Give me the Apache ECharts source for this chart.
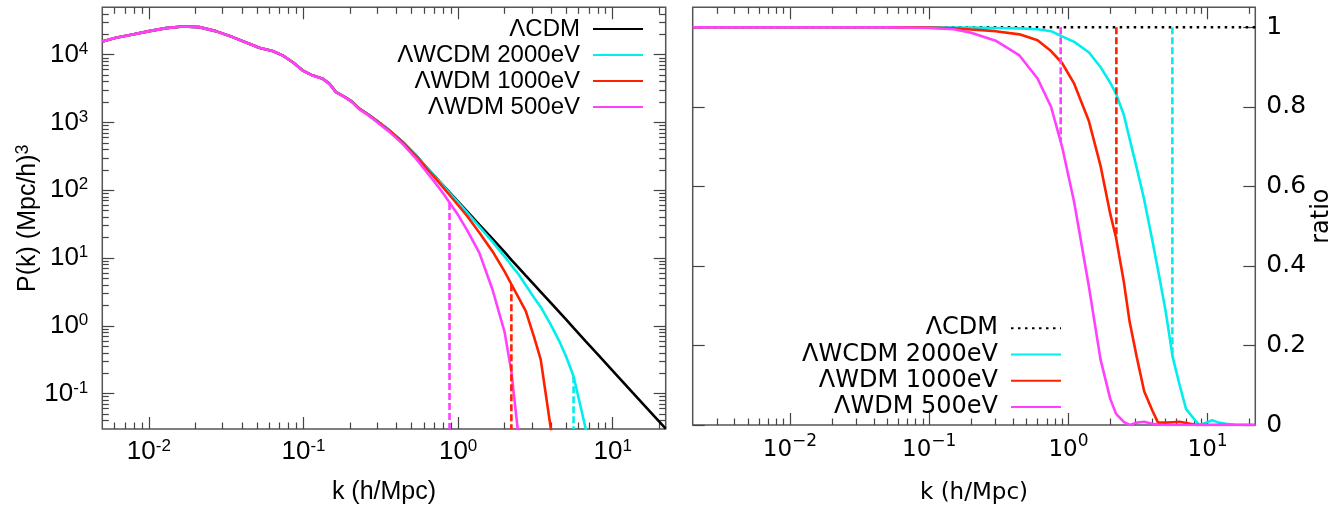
<!DOCTYPE html>
<html><head><meta charset="utf-8">
<script src="https://cdn.jsdelivr.net/npm/echarts@6/dist/echarts.min.js"></script>
<style>html,body{margin:0;padding:0;background:#fff}#c{width:1344px;height:510px}</style>
</head><body><div id="c"></div>
<script>
// ---------- data ----------
const seriesNames = ['ΛCDM', 'ΛWCDM 2000eV', 'ΛWDM 1000eV', 'ΛWDM 500eV'];
const seriesColors = ['#000000', '#00eeee', '#ff2000', '#ff40ff'];

// left panel: P(k)
const kPk = [0.005, 0.00612, 0.00785, 0.01006, 0.0129, 0.0165, 0.0212, 0.0271, 0.0348, 0.0446,
  0.0517, 0.0631, 0.0732, 0.0849, 0.0986, 0.114, 0.133, 0.147, 0.162, 0.188,
  0.207, 0.229, 0.253, 0.294, 0.358, 0.437, 0.533, 0.618, 0.70, 0.80,
  0.88, 1.0, 1.14, 1.37, 1.67, 2.0, 2.21, 2.45, 2.74, 3.1,
  3.42, 3.98, 4.5, 5.0, 5.58, 6.69, 8.0, 10, 13.4, 16, 22];
const pkLCDM = [15700, 17760, 19890, 22260, 24640, 26060, 25490, 22260, 18170, 14500,
  12660, 11310, 9765, 7790, 5876, 4961, 4432, 3742, 2821, 2329,
  2011, 1605, 1385, 1081, 770, 519, 330, 223, 164, 118,
  93, 68, 49, 31, 19.2, 12.2, 9.4, 7.3, 5.5, 4.05,
  3.17, 2.17, 1.6, 1.23, 0.93, 0.59, 0.38, 0.217, 0.104, 0.067, 0.0303];
const pkW2000 = [15700, 17760, 19890, 22260, 24640, 26060, 25490, 22260, 18170, 14500,
  12660, 11310, 9765, 7790, 5876, 4961, 4432, 3742, 2821, 2329,
  2011, 1605, 1385, 1081, 770, 517, 329, 222, 163, 117,
  91, 66, 47, 29.1, 17.3, 10.5, 7.8, 5.8, 3.96, 2.6,
  1.9, 1.03, 0.6, 0.35, 0.18, 0.03, 0.003, null, null, null, null];
const pkW1000 = [15700, 17760, 19890, 22260, 24640, 26060, 25490, 22260, 18170, 14500,
  12660, 11310, 9765, 7790, 5870, 4953, 4424, 3733, 2813, 2320,
  1999, 1595, 1376, 1072, 762, 510, 322, 215, 157, 110,
  85, 60, 42, 23.8, 12.5, 6.3, 4.1, 2.65, 1.65, 0.68,
  0.32, 0.03, 0.004, null, null, null, null, null, null, null, null];
const pkW500 = [15700, 17760, 19890, 22260, 24640, 26060, 25490, 22260, 18170, 14500,
  12660, 11310, 9765, 7790, 5864, 4941, 4400, 3708, 2793, 2301,
  1983, 1576, 1352, 1045, 732, 483, 295, 192, 135, 90,
  66, 43, 26, 12, 3.4, 0.8, 0.21, 0.025, 0.001, null,
  null, null, null, null, null, null, null, null, null, null, null];

// right panel: ratio to ΛCDM
const kRatio = [0.002, 0.01, 0.05, 0.1, 0.15, 0.2, 0.3, 0.445, 0.6, 0.75,
  0.9, 1.1, 1.4, 1.7, 2.0, 2.2, 2.5, 2.75, 3.1, 3.5,
  4.0, 4.4, 5.0, 5.6, 6.3, 7.0, 8.0, 8.7, 9.6, 10.8,
  12, 13.5, 16, 22];
const ratioLCDM = [1, 1, 1, 1, 1, 1, 1, 1, 1, 1,
  1, 1, 1, 1, 1, 1, 1, 1, 1, 1,
  1, 1, 1, 1, 1, 1, 1, 1, 1, 1,
  1, 1, 1, 1];
const ratioW2000 = [1, 1, 1, 1, 0.999, 0.999, 0.998, 0.997, 0.995, 0.99,
  0.977, 0.963, 0.937, 0.90, 0.86, 0.832, 0.78, 0.72, 0.645, 0.567,
  0.465, 0.39, 0.285, 0.172, 0.10, 0.04, 0.015, 0, 0.005, 0.012,
  0.006, 0.003, 0, 0];
const ratioW1000 = [1, 1, 1, 0.999, 0.997, 0.994, 0.99, 0.982, 0.967, 0.94,
  0.91, 0.858, 0.765, 0.652, 0.53, 0.47, 0.36, 0.26, 0.17, 0.085,
  0.037, 0.006, 0.006, 0.007, 0.008, 0.005, 0.001, 0, 0, 0,
  0, 0, 0, 0];
const ratioW500 = [1, 1, 1, 0.998, 0.995, 0.986, 0.966, 0.929, 0.871, 0.80,
  0.70, 0.56, 0.35, 0.165, 0.065, 0.028, 0.008, 0, 0.006, 0.008,
  0.003, 0.001, 0, 0, 0, 0, 0, 0, 0, 0,
  0, 0, 0, 0];

// half-mode markers (order: 2000eV, 1000eV, 500eV)
const kHalfMode = [5.58, 2.21, 0.88];
const pkHalfMode = [0.18, 4.1, 65];
const ratioHalfMode = [0.177, 0.471, 0.712];

// axes
const xRangeLeft = [0.005, 22];
const yRangeLeft = [0.03, 50000];
const xRangeRight = [0.002, 22];
const yRangeRight = [0, 1.05];
const xTicksMajor = [0.01, 0.1, 1, 10];
const yTicksLeft = [0.1, 1, 10, 100, 1000, 10000];
const yTicksRight = [0, 0.2, 0.4, 0.6, 0.8, 1];
const yTickLabelsRight = ['0', '0.2', '0.4', '0.6', '0.8', '1'];

// ---------- helpers ----------
function minorLog(range) {
  const out = [];
  for (let e = -4; e <= 5; e++) {
    for (let m = 2; m <= 9; m++) {
      const v = m * Math.pow(10, e);
      if (v > range[0] * 1.001 && v < range[1] * 0.999) out.push(+v.toPrecision(6));
    }
  }
  return out;
}
function zip(xs, ys) { return xs.map((x, i) => [x, ys[i]]); }

const TICK = '#444';
const FL = 'Liberation Sans';
const FR = 'DejaVu Sans';

function tickAxis(type, grid, pos, range, ticks, len) {
  return {
    type: type, gridIndex: grid, position: pos, min: range[0], max: range[1],
    axisLine: { show: false },
    axisTick: { show: true, inside: true, length: len, customValues: ticks, lineStyle: { color: TICK, width: 1.2 } },
    axisLabel: { show: false },
    splitLine: { show: false }
  };
}

const supLeft = v => '{b|10}{s|' + Math.round(Math.log10(v)) + '}';
const supRight = v => '{b|10}{s|' + String(Math.round(Math.log10(v))).replace('-', '\u2212') + '}';
const richLeft = {
  b: { fontFamily: FL, fontSize: 26, lineHeight: 28, color: '#000' },
  s: { fontFamily: FL, fontSize: 17, lineHeight: 12, verticalAlign: 'top', color: '#000' }
};
const richRight = {
  b: { fontFamily: FR, fontSize: 23, lineHeight: 34, color: '#000' },
  s: { fontFamily: FR, fontSize: 17, lineHeight: 11, verticalAlign: 'top', color: '#000' }
};

// ---------- axes ----------
const xAxes = [];
const yAxes = [];

// left grid (0)
const xl = tickAxis('log', 0, 'bottom', xRangeLeft, xTicksMajor, 12);
xl.axisLabel = { show: true, customValues: xTicksMajor, margin: 9, formatter: supLeft, rich: richLeft };
xl.name = 'k (h/Mpc)'; xl.nameLocation = 'middle'; xl.nameGap = 51;
xl.nameTextStyle = { fontFamily: FL, fontSize: 25, color: '#000' };
xAxes.push(xl);
xAxes.push(tickAxis('log', 0, 'bottom', xRangeLeft, minorLog(xRangeLeft), 6.5));
xAxes.push(tickAxis('log', 0, 'top', xRangeLeft, xTicksMajor, 12));
xAxes.push(tickAxis('log', 0, 'top', xRangeLeft, minorLog(xRangeLeft), 6.5));

const yl = tickAxis('log', 0, 'left', yRangeLeft, yTicksLeft, 12);
yl.axisLabel = { show: true, customValues: yTicksLeft, margin: 14, formatter: supLeft, rich: richLeft };
yl.name = '{a|P(k) (Mpc/h)}{s|3}'; yl.nameLocation = 'middle'; yl.nameGap = 49; yl.nameRotate = 90;
yl.nameTextStyle = { rich: {
  a: { fontFamily: FL, fontSize: 25, lineHeight: 28, color: '#000' },
  s: { fontFamily: FL, fontSize: 18, lineHeight: 12, verticalAlign: 'top', color: '#000' } } };
yAxes.push(yl);
yAxes.push(tickAxis('log', 0, 'left', yRangeLeft, minorLog(yRangeLeft), 6.5));
yAxes.push(tickAxis('log', 0, 'right', yRangeLeft, yTicksLeft, 12));
yAxes.push(tickAxis('log', 0, 'right', yRangeLeft, minorLog(yRangeLeft), 6.5));

// right grid (1)
const xr = tickAxis('log', 1, 'bottom', xRangeRight, xTicksMajor, 12);
xr.axisLabel = { show: true, customValues: xTicksMajor, margin: 8, formatter: supRight, rich: richRight };
xr.name = 'k (h/Mpc)'; xr.nameLocation = 'middle'; xr.nameGap = 57;
xr.nameTextStyle = { fontFamily: FR, fontSize: 23, color: '#000' };
xAxes.push(xr);
xAxes.push(tickAxis('log', 1, 'bottom', xRangeRight, minorLog(xRangeRight), 6.5));
xAxes.push(tickAxis('log', 1, 'top', xRangeRight, xTicksMajor, 12));
xAxes.push(tickAxis('log', 1, 'top', xRangeRight, minorLog(xRangeRight), 6.5));

const yr = tickAxis('value', 1, 'right', yRangeRight, yTicksRight, 12);
yr.axisLabel = { show: true, customValues: yTicksRight, margin: 11,
  formatter: v => yTickLabelsRight[yTicksRight.indexOf(+(+v).toFixed(2))] ?? String(v),
  fontFamily: FR, fontSize: 25, color: '#000' };
yr.name = 'ratio'; yr.nameLocation = 'middle'; yr.nameGap = 53; yr.nameRotate = 90;
yr.nameTextStyle = { fontFamily: FR, fontSize: 24, color: '#000' };
yAxes.push(yr);
yAxes.push(tickAxis('value', 1, 'left', yRangeRight, yTicksRight, 12));

// ---------- series ----------
const series = [];
const pkSets = [pkLCDM, pkW2000, pkW1000, pkW500];
pkSets.forEach((arr, i) => {
  series.push({
    name: seriesNames[i], type: 'line', xAxisIndex: 0, yAxisIndex: 0,
    data: zip(kPk, arr), symbol: 'none', showSymbol: false, clip: true,
    lineStyle: { color: seriesColors[i], width: 2.6 }, itemStyle: { color: seriesColors[i] },
    silent: true, z: 2 + i
  });
});
const hmColors = [seriesColors[1], seriesColors[2], seriesColors[3]];
kHalfMode.forEach((k, i) => {
  series.push({
    name: 'hm-left-' + i, type: 'line', xAxisIndex: 0, yAxisIndex: 0,
    data: [[k, pkHalfMode[i]], [k, yRangeLeft[0]]], symbol: 'none', clip: true,
    lineStyle: { color: hmColors[i], width: 2.6, type: [7, 3] }, silent: true, z: 8
  });
});
const ratioSets = [ratioLCDM, ratioW2000, ratioW1000, ratioW500];
ratioSets.forEach((arr, i) => {
  series.push({
    name: seriesNames[i] + ' (ratio)', type: 'line', xAxisIndex: 4, yAxisIndex: 4,
    data: zip(kRatio, arr), symbol: 'none', showSymbol: false, clip: true,
    lineStyle: { color: seriesColors[i], width: 2.6, type: i === 0 ? [2.5, 4.5] : 'solid' },
    itemStyle: { color: seriesColors[i] }, silent: true, z: 2 + i
  });
});
kHalfMode.forEach((k, i) => {
  series.push({
    name: 'hm-right-' + i, type: 'line', xAxisIndex: 4, yAxisIndex: 4,
    data: [[k, 1], [k, ratioHalfMode[i]]], symbol: 'none', clip: true,
    lineStyle: { color: hmColors[i], width: 2.6, type: [7, 3] }, silent: true, z: 8
  });
});

const hiddenSymbol = { color: 'rgba(0,0,0,0)', borderColor: 'rgba(0,0,0,0)', borderWidth: 0, opacity: 0 };

const option = {
  animation: false,
  backgroundColor: '#ffffff',
  grid: [
    { left: 102.3, top: 7.3, width: 563.4, height: 422.7, show: true, borderColor: '#555', borderWidth: 1.5, backgroundColor: 'transparent', containLabel: false },
    { left: 692.7, top: 7.3, width: 562.6, height: 422, show: true, borderColor: '#555', borderWidth: 1.5, backgroundColor: 'transparent', containLabel: false }
  ],
  legend: [
    { data: seriesNames, orient: 'vertical', align: 'right', right: 700, top: 16,
      itemWidth: 50, itemHeight: 14, itemGap: 0, padding: 0, selectedMode: false,
      itemStyle: hiddenSymbol,
      textStyle: { fontFamily: FL, fontSize: 24, lineHeight: 26, color: '#000', padding: [0, 8, 0, 0] } },
    { data: seriesNames.map(n => n + ' (ratio)'), orient: 'vertical', align: 'right', right: 282, top: 315,
      itemWidth: 50, itemHeight: 14, itemGap: 0, padding: 0, selectedMode: false,
      itemStyle: hiddenSymbol,
      formatter: n => n.replace(' (ratio)', ''),
      textStyle: { fontFamily: FR, fontSize: 24, lineHeight: 26.3, color: '#000', padding: [0, 8, 0, 0] } }
  ],
  xAxis: xAxes,
  yAxis: yAxes,
  series: series
};

const chart = echarts.init(document.getElementById('c'), null, { renderer: 'canvas' });
chart.setOption(option);
</script></body></html>
